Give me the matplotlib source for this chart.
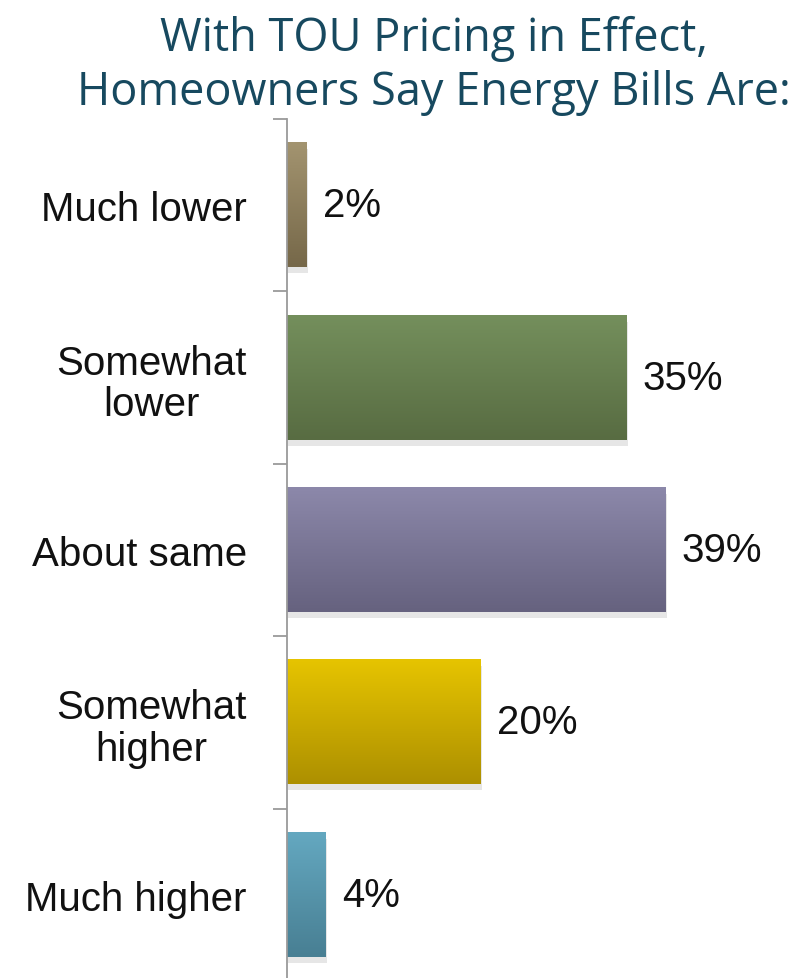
import numpy as np
import matplotlib.pyplot as plt
from matplotlib.colors import LinearSegmentedColormap

categories = ["Much lower", "Somewhat\nlower", "About same", "Somewhat\nhigher", "Much higher"]
shares = [2, 35, 39, 20, 4]
top_colors = ["#a39470", "#748f5c", "#8c88aa", "#e6c400", "#64a8c0"]
bottom_colors = ["#766849", "#586c42", "#66627f", "#ad9000", "#487f93"]

title = "With TOU Pricing in Effect,\nHomeowners Say Energy Bills Are:"

fig = plt.figure(figsize=(8.01, 9.79), dpi=100)
ax = fig.add_axes([287 / 801, -3 / 979, 1 - 287 / 801, 862 / 979])

y = np.arange(len(categories))
bars = ax.barh(y, shares, height=0.72, color="none", edgecolor="none")

# vertical gradient fill for each bar, plus a faint shadow underneath
for bar, c_top, c_bot, v in zip(bars, top_colors, bottom_colors, shares):
    x0, y0 = bar.get_x(), bar.get_y()
    w, h = bar.get_width(), bar.get_height()
    shadow = plt.Rectangle((x0 + 0.1, y0 + 0.035), w + 0.05, h, color="#c8c8c8",
                           alpha=0.45, zorder=1, lw=0)
    ax.add_patch(shadow)
    cmap = LinearSegmentedColormap.from_list("g", [c_top, c_bot])
    grad = np.linspace(0, 1, 100).reshape(-1, 1)
    ax.imshow(grad, cmap=cmap, aspect="auto", zorder=2,
              extent=(x0, x0 + w, y0 + h, y0), interpolation="bicubic")
    ax.text(x0 + w + 1.7, y0 + h / 2, f"{v}%", va="center", ha="left",
            fontsize=29, color="#111111", family="Liberation Sans")

ax.set_xlim(0, 53)
ax.set_ylim(len(categories) - 0.5, -0.5)

ax.set_yticks(y)
ax.set_yticklabels(categories, fontsize=29, family="Liberation Sans",
                   color="#111111", multialignment="center", linespacing=1.12)
ax.tick_params(axis="y", which="major", length=0, pad=29)
ax.set_yticks(np.arange(-0.5, len(categories)), minor=True)
ax.tick_params(axis="y", which="minor", length=10, width=1.3, color="#9a9a9a",
               direction="out")
ax.set_xticks([])

for side in ["top", "right", "bottom"]:
    ax.spines[side].set_visible(False)
ax.spines["left"].set_color("#9a9a9a")
ax.spines["left"].set_linewidth(1.3)

fig.text(434 / 801, 1 - 66 / 979, title, ha="center", va="center",
         fontsize=32.5, color="#17495f", family="Open Sans", linespacing=1.22)

fig.savefig("out.png", dpi=100)
